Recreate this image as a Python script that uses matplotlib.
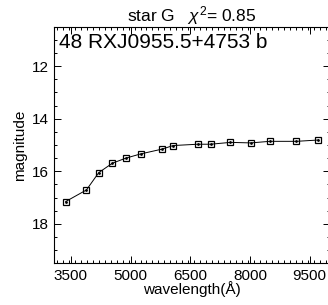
import numpy as np
import matplotlib
matplotlib.use('Agg')
import matplotlib.pyplot as plt
from matplotlib.ticker import MultipleLocator

plt.rcParams['font.family'] = ['Liberation Sans', 'DejaVu Sans']
plt.rcParams['mathtext.fontset'] = 'custom'
plt.rcParams['mathtext.rm'] = 'Liberation Sans'
plt.rcParams['mathtext.it'] = 'Liberation Sans:italic'

# filter central wavelengths (A) and magnitudes
wavelength = [3370, 3890, 4200, 4545, 4880, 5250, 5780, 6070, 6690, 7010, 7510, 8020, 8500, 9170, 9720]
magnitude = [17.15, 16.71, 16.05, 15.69, 15.50, 15.34, 15.16, 15.02, 14.97, 14.97, 14.90, 14.92, 14.86, 14.86, 14.81]

title = r'star G   $\chi^{2}$= 0.85'
label = '48 RXJ0955.5+4753 b'

fig = plt.figure(figsize=(3.28, 3.05), dpi=100)
ax = fig.add_axes([0.1646, 0.1367, 0.840, 0.7757])

ax.plot(wavelength, magnitude, color='black', lw=0.7)
ax.plot(wavelength, magnitude, 's', ms=5, mfc='none', mec='black', mew=0.9)
ax.plot(wavelength, magnitude, '.', ms=2, color='black')

ax.set_xlim(3075, 10000)
ax.set_ylim(19.5, 10.5)

ax.set_xticks([3500, 5000, 6500, 8000, 9500])
ax.xaxis.set_minor_locator(MultipleLocator(150))
ax.set_yticks([12, 14, 16, 18])
ax.yaxis.set_minor_locator(MultipleLocator(0.5))
ax.tick_params(which='both', direction='in', top=True, right=True, labelsize=11, width=0.7)
ax.tick_params(which='major', length=5, pad=4)
ax.tick_params(which='minor', length=2.5)
for s in ax.spines.values():
    s.set_linewidth(0.8)

ax.set_xlabel('wavelength(Å)', fontsize=11, labelpad=-1)
ax.set_ylabel('magnitude', fontsize=11, labelpad=3)
ax.set_title(title, fontsize=12.5, pad=3)
ax.text(0.02, 0.975, label, transform=ax.transAxes, fontsize=15, va='top', ha='left')

fig.savefig('out.png', dpi=100)
